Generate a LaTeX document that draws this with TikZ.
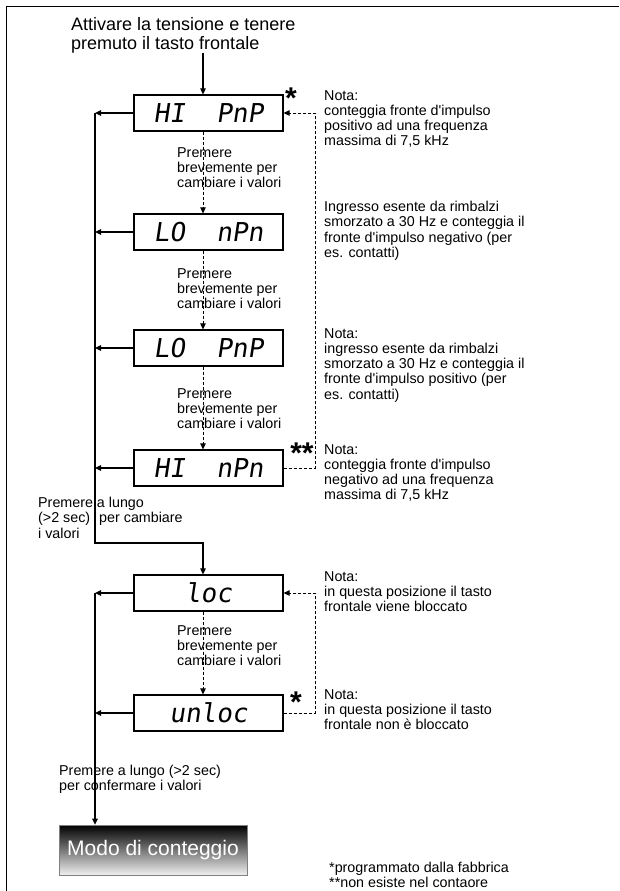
\documentclass[tikz,border=0pt]{standalone}
\usepackage{fontspec}
\setmainfont{Liberation Sans}
\newfontfamily\segfont[FakeSlant=0.15]{DejaVu Sans Mono}
\usetikzlibrary{arrows.meta}

\tikzset{
  disp/.style={draw, line width=1.2pt, minimum width=149pt, minimum height=36pt,
    inner sep=0pt, font=\segfont\fontsize{26}{26}\selectfont},
  note/.style={anchor=north west, align=left, inner sep=0pt,
    font=\fontsize{14.3}{15.3}\selectfont},
  arr/.style={line width=1.1pt, -{Triangle[length=6pt,width=5.5pt]}},
  dasharr/.style={line width=0.8pt, dash pattern=on 3pt off 2pt,
    -{Triangle[length=6pt,width=5.5pt]}},
  star/.style={inner sep=0pt, font=\bfseries\fontsize{30}{30}\selectfont},
  modobox/.style={draw=gray, line width=0.6pt, minimum width=188pt, minimum height=50pt,
    top color=black, bottom color=black!6, text=white, font=\fontsize{21}{21}\selectfont}
}

\begin{document}
\begin{tikzpicture}[x=1pt,y=-1pt]
  \useasboundingbox (0,0) rectangle (619,891);
  % frame
  \draw[line width=0.8pt] (6,891) -- (6,6) -- (619,6);
  % title
  \node[note, font=\fontsize{18}{19}\selectfont] (title) at (71,17)
    {Attivare la tensione e tenere\\premuto il tasto frontale};
  % displays
  \node[disp] (hipnp) at (208.5,113) {HI\ \ PnP};
  \node[disp] (lonpn) at (208.5,232) {LO\ \ nPn};
  \node[disp] (lopnp) at (208.5,348) {LO\ \ PnP};
  \node[disp] (hinpn) at (208.5,468) {HI\ \ nPn};
  \node[disp] (loc)   at (208.5,593) {loc};
  \node[disp] (unloc) at (208.5,713) {unloc};
  \node[modobox] (modo) at (153,850) {Modo di conteggio};
  % stars
  \node[star] (s1) at (291,98) {*};
  \node[star] (s2) at (302,453) {**};
  \node[star] (s3) at (296,702) {*};
  % short presses
  \foreach \y in {147,268,388,625}
    \node[note] at (177,\y) {Premere\\brevemente per\\cambiare i valori};
  % long presses
  \node[note] (long1) at (38,497) {Premere a lungo\\(>2 sec)\hspace{5pt} per cambiare\\i valori};
  \node[note] (long2) at (59,765) {Premere a lungo (>2 sec)\\per confermare i valori};
  % notes
  \node[note] (n1) at (324,90) {Nota:\\conteggia fronte d\textquotesingle impulso\\positivo ad una frequenza\\massima di 7,5 kHz};
  \node[note] (n2) at (324,201) {Ingresso esente da rimbalzi\\smorzato a 30 Hz e conteggia il\\fronte d\textquotesingle impulso negativo (per\\es. contatti)};
  \node[note] (n3) at (324,328) {Nota:\\ingresso esente da rimbalzi\\smorzato a 30 Hz e conteggia il\\fronte d\textquotesingle impulso positivo (per\\es. contatti)};
  \node[note] (n4) at (324,444) {Nota:\\conteggia fronte d\textquotesingle impulso\\negativo ad una frequenza\\massima di 7,5 kHz};
  \node[note] (n5) at (324,571) {Nota:\\in questa posizione il tasto\\frontale viene bloccato};
  \node[note] (n6) at (324,689) {Nota:\\in questa posizione il tasto\\frontale non è bloccato};
  \node[note] (foot) at (329,862) {*programmato dalla fabbrica\\**non esiste nel contaore};
  % connectors
  \coordinate (bus)  at (95,113);
  \coordinate (turn) at (95,543);
  \coordinate (back) at (315,0);
  \coordinate (in1)   at ([xshift=-5.5pt]hipnp.north);
  \coordinate (inloc) at ([xshift=-5.5pt]loc.north);
  \draw[arr] (in1 |- title.south) -- (in1);
  \foreach \a/\b in {hipnp/lonpn,lonpn/lopnp,lopnp/hinpn,loc/unloc}
    \draw[dasharr] ([xshift=-5.5pt]\a.south) -- ([xshift=-5.5pt]\b.north);
  \draw[dasharr] (hinpn.east) -- (hinpn.east -| back) -- (hipnp.east -| back) -- (hipnp.east);
  \draw[dasharr] (unloc.east) -- (unloc.east -| back) -- (loc.east -| back) -- (loc.east);
  \foreach \n in {hipnp,lonpn,lopnp,hinpn,loc,unloc}
    \draw[arr] (\n.west) -- (\n.west -| bus);
  \draw[arr] (bus) -- (turn) -| (inloc);
  \draw[arr] (loc.west -| bus) -- (modo.north -| bus);
\end{tikzpicture}
\end{document}
